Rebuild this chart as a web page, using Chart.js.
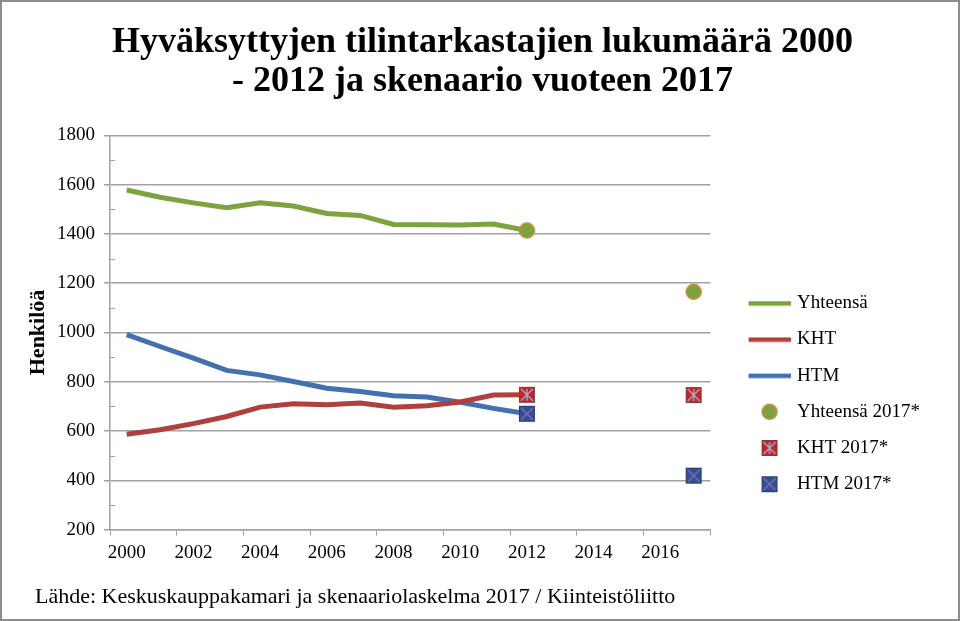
<!DOCTYPE html>
<html>
<head>
<meta charset="utf-8">
<script src="https://cdn.jsdelivr.net/npm/chart.js@4.4.0/dist/chart.umd.min.js"></script>
<style>
  body { margin: 0; background: #fff; }
  canvas { display: block; }
</style>
</head>
<body>
<canvas id="kaavio" width="960" height="621"></canvas>
<script>
const vuodet = ['2000', '2001', '2002', '2003', '2004', '2005', '2006', '2007', '2008',
  '2009', '2010', '2011', '2012', '2013', '2014', '2015', '2016', '2017'];

const yhteensa = [1578, 1549, 1526, 1506, 1526, 1513, 1483, 1475, 1438, 1437, 1436, 1440, 1414,
  null, null, null, null, null];
const kht = [587, 605, 630, 659, 697, 711, 707, 714, 697, 703, 718, 746, 747,
  null, null, null, null, null];
const htm = [991, 943, 896, 846, 828, 801, 774, 760, 743, 738, 717, 692, 670,
  null, null, null, null, null];

const yhteensa2017 = [null, null, null, null, null, null, null, null, null, null, null, null, 1414,
  null, null, null, null, 1165];
const kht2017 = [null, null, null, null, null, null, null, null, null, null, null, null, 747,
  null, null, null, null, 746];
const htm2017 = [null, null, null, null, null, null, null, null, null, null, null, null, 670,
  null, null, null, null, 419];

const vihrea = '#7DA33F';
const punainen = '#B0403D';
const sininen = '#4471AE';
const ruudukko = '#a2a2a2';
const fontti = "'Liberation Serif', 'Times New Roman', serif";

// merkit piirretään pieniin kanvaasiin
function pallo(g, x, y) {
  g.beginPath();
  g.arc(x, y, 7.5, 0, Math.PI * 2);
  g.fillStyle = '#7BA23F';
  g.fill();
  g.lineWidth = 1.5;
  g.strokeStyle = '#C98B3E';
  g.stroke();
}

function ruutu(g, x, y, tausta, reuna, risti, tahti) {
  const s = 8;
  g.fillStyle = tausta;
  g.fillRect(x - s, y - s, 2 * s, 2 * s);
  g.lineWidth = 1;
  g.strokeStyle = reuna;
  g.strokeRect(x - s + 0.5, y - s + 0.5, 2 * s - 1, 2 * s - 1);
  g.strokeStyle = risti;
  g.lineWidth = 1.3;
  g.beginPath();
  g.moveTo(x - s + 2, y - s + 2); g.lineTo(x + s - 2, y + s - 2);
  g.moveTo(x + s - 2, y - s + 2); g.lineTo(x - s + 2, y + s - 2);
  if (tahti) {
    g.moveTo(x, y - s + 2); g.lineTo(x, y + s - 2);
  }
  g.stroke();
}

function uusiKanvaasi(w, h) {
  const c = document.createElement('canvas');
  c.width = w; c.height = h;
  return c;
}

function merkki(tyyppi) {
  const c = uusiKanvaasi(18, 18);
  const g = c.getContext('2d');
  if (tyyppi === 'pallo') pallo(g, 9, 9);
  if (tyyppi === 'kht') ruutu(g, 9, 9, '#C3232B', '#8A3A3C', '#9DB6D2', true);
  if (tyyppi === 'htm') ruutu(g, 9, 9, '#30508E', '#2A3F6E', '#8A6CC0', false);
  return c;
}

// selitteen kuvat: leveämpi kanvaasi, jotta viiva osuu oikeaan kohtaan
function selitekuva(tyyppi, vari) {
  const c = uusiKanvaasi(66, 20);
  const g = c.getContext('2d');
  if (vari) {
    g.fillStyle = vari;
    g.fillRect(24, 8, 42, 4.5);
  } else if (tyyppi === 'pallo') {
    pallo(g, 45, 10);
  } else if (tyyppi === 'kht') {
    ruutu(g, 45, 10, '#C3232B', '#8A3A3C', '#9DB6D2', true);
  } else {
    ruutu(g, 45, 10, '#30508E', '#2A3F6E', '#8A6CC0', false);
  }
  return c;
}

const selitekuvat = [
  selitekuva(null, vihrea),
  selitekuva(null, punainen),
  selitekuva(null, sininen),
  selitekuva('pallo'),
  selitekuva('kht'),
  selitekuva('htm')
];

const reunus = {
  id: 'reunus',
  beforeDraw(chart) {
    const ctx = chart.ctx;
    ctx.save();
    ctx.fillStyle = '#fff';
    ctx.fillRect(0, 0, chart.width, chart.height);
    ctx.strokeStyle = '#8c8c8c';
    ctx.lineWidth = 2;
    ctx.strokeRect(1, 1, chart.width - 2, chart.height - 2);
    ctx.restore();
  }
};

const pikkuviivat = {
  id: 'pikkuviivat',
  afterDraw(chart) {
    const y = chart.scales.y;
    const ctx = chart.ctx;
    ctx.save();
    ctx.strokeStyle = ruudukko;
    ctx.lineWidth = 1;
    ctx.beginPath();
    for (let i = 0; i < y.ticks.length - 1; i++) {
      const v = (y.ticks[i].value + y.ticks[i + 1].value) / 2;
      const py = Math.round(y.getPixelForValue(v)) + 0.5;
      ctx.moveTo(y.right, py);
      ctx.lineTo(y.right + 5, py);
    }
    ctx.stroke();
    ctx.restore();
  }
};

const ctx = document.getElementById('kaavio');

new Chart(ctx, {
  type: 'line',
  data: {
    labels: vuodet,
    datasets: [
      { label: 'Yhteensä', data: yhteensa, borderColor: vihrea, borderWidth: 5, pointRadius: 0, order: 1 },
      { label: 'KHT', data: kht, borderColor: punainen, borderWidth: 5, pointRadius: 0, order: 2 },
      { label: 'HTM', data: htm, borderColor: sininen, borderWidth: 5, pointRadius: 0, order: 3 },
      { label: 'Yhteensä 2017*', data: yhteensa2017, showLine: false, pointStyle: merkki('pallo'), pointRadius: 8, order: 0 },
      { label: 'KHT 2017*', data: kht2017, showLine: false, pointStyle: merkki('kht'), pointRadius: 8, order: 0 },
      { label: 'HTM 2017*', data: htm2017, showLine: false, pointStyle: merkki('htm'), pointRadius: 8, order: 0 }
    ]
  },
  options: {
    responsive: false,
    animation: false,
    events: [],
    layout: { padding: { left: 35, right: 30, top: 0, bottom: 11 } },
    plugins: {
      title: {
        display: true,
        text: ['Hyväksyttyjen tilintarkastajien lukumäärä 2000', '- 2012 ja skenaario vuoteen 2017'],
        color: '#000',
        font: { family: fontti, size: 36, weight: 'bold', lineHeight: 1.06 },
        padding: { top: 24, bottom: 35 }
      },
      subtitle: {
        display: true,
        position: 'bottom',
        align: 'start',
        text: 'Lähde: Keskuskauppakamari ja skenaariolaskelma 2017 / Kiinteistöliitto',
        color: '#000',
        font: { family: fontti, size: 22, lineHeight: 1.2 },
        padding: { top: 8, bottom: 0 }
      },
      legend: {
        position: 'right',
        align: 'start',
        title: { display: true, text: ' ', font: { size: 10, lineHeight: 1.25 }, padding: { top: 132, bottom: 132 } },
        labels: {
          usePointStyle: true,
          pointStyleWidth: 60,
          padding: 17.2,
          color: '#000',
          font: { family: fontti, size: 19 },
          sort: (a, b) => a.datasetIndex - b.datasetIndex,
          generateLabels(chart) {
            const kohteet = Chart.defaults.plugins.legend.labels.generateLabels(chart);
            kohteet.forEach(k => { k.pointStyle = selitekuvat[k.datasetIndex]; });
            return kohteet;
          }
        }
      },
      tooltip: { enabled: false }
    },
    scales: {
      x: {
        offset: true,
        afterFit(scale) { scale.height = 46; },
        grid: {
          offset: true,
          drawOnChartArea: false,
          tickLength: 6,
          color: c => (c.index === undefined || c.index % 2 === 0) ? ruudukko : 'rgba(0,0,0,0)'
        },
        border: { color: ruudukko, width: 1.5 },
        ticks: {
          autoSkip: false,
          maxRotation: 0,
          padding: 6,
          color: '#000',
          font: { family: fontti, size: 19 },
          callback: (v, i) => i % 2 === 0 ? vuodet[i] : ''
        }
      },
      y: {
        min: 200,
        max: 1800,
        afterFit(scale) { scale.width = 75; },
        grid: { color: ruudukko, lineWidth: 1.5, tickLength: 6 },
        border: { color: ruudukko, width: 1.5 },
        ticks: {
          stepSize: 200,
          padding: 9,
          color: '#000',
          font: { family: fontti, size: 19 },
          callback: v => String(v)
        },
        title: {
          display: true,
          text: 'Henkilöä',
          color: '#000',
          font: { family: fontti, size: 22, weight: 'bold', lineHeight: 1.2 },
          padding: { top: -10, bottom: 0 }
        }
      }
    }
  },
  plugins: [reunus, pikkuviivat]
});
</script>
</body>
</html>
